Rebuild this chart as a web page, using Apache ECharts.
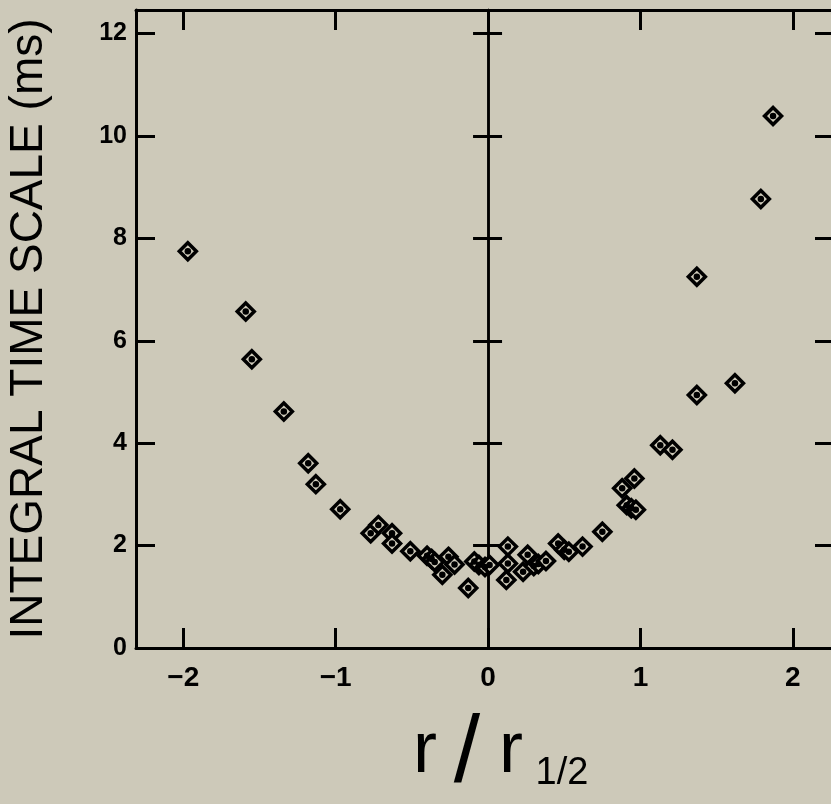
<!DOCTYPE html>
<html>
<head>
<meta charset="utf-8">
<script src="https://cdn.jsdelivr.net/npm/echarts@6/dist/echarts.min.js"></script>
<style>
html,body{margin:0;padding:0;background:#cdc9b9;}
#c{width:831px;height:804px;}
</style>
</head>
<body>
<div id="c"></div>
<script>
// r / r_1/2 values
const rValues = [-1.97,-1.59,-1.55,-1.34,-1.18,-1.13,-0.97,-0.77,-0.72,-0.63,-0.63,-0.51,-0.40,-0.37,-0.35,-0.30,-0.26,-0.22,-0.13,-0.09,-0.06,-0.02,0.01,
  0.12,0.13,0.13,0.23,0.26,0.30,0.33,0.38,0.46,0.50,0.53,0.62,0.75,0.88,0.96,0.91,0.94,0.97,1.13,1.21,1.37,1.37,1.62,1.79,1.87];
// integral time scale (ms)
const tValues = [7.75,6.57,5.64,4.62,3.61,3.20,2.71,2.24,2.40,2.24,2.04,1.89,1.80,1.74,1.68,1.43,1.78,1.63,1.17,1.69,1.62,1.58,1.62,
  1.33,1.65,1.98,1.49,1.82,1.60,1.64,1.70,2.04,1.92,1.88,1.98,2.27,3.12,3.31,2.79,2.73,2.70,3.96,3.87,4.94,7.25,5.17,8.77,10.39];
const xTicks = [-2,-1,0,1,2];
const yTicks = [0,2,4,6,8,10,12];

const points = rValues.map((r,i)=>[r,tValues[i]]);
const BG = '#cdc9b9';
const FONT = 'Liberation Sans';

const chart = echarts.init(document.getElementById('c'), null, {renderer:'canvas'});
const lineW = 3;
const baseX = {type:'value', min:-2.31, max:2.27, splitLine:{show:false}};
const baseY = {type:'value', min:0, max:12.46, splitLine:{show:false}};
chart.setOption({
  backgroundColor: BG,
  animation:false,
  grid:{left:136, top:10, right:-3, bottom:156, outerBoundsMode:'none', containLabel:false},
  xAxis:[
    Object.assign({}, baseX, {position:'bottom',
      axisLine:{onZero:false, lineStyle:{color:'#000', width:lineW}},
      axisTick:{inside:true, length:20, customValues:xTicks, lineStyle:{color:'#000', width:lineW}},
      axisLabel:{customValues:xTicks, color:'#000', fontSize:28, fontWeight:'bold', fontFamily:FONT, margin:16,
        formatter:v=> v<0 ? '\u2212'+Math.abs(v) : String(v)}}),
    Object.assign({}, baseX, {position:'top',
      axisLine:{onZero:false, lineStyle:{color:'#000', width:lineW}},
      axisTick:{inside:true, length:20, customValues:xTicks, lineStyle:{color:'#000', width:lineW}},
      axisLabel:{show:false}})
  ],
  yAxis:[
    Object.assign({}, baseY, {position:'left',
      name:'INTEGRAL TIME SCALE (ms)', nameLocation:'middle', nameRotate:90, nameGap:84,
      nameTextStyle:{color:'#000', fontSize:46, fontFamily:FONT},
      axisLine:{onZero:false, lineStyle:{color:'#000', width:lineW}},
      axisTick:{inside:true, length:19, customValues:yTicks, lineStyle:{color:'#000', width:lineW}},
      axisLabel:{customValues:yTicks, color:'#000', fontSize:25, fontWeight:'bold', fontFamily:FONT, margin:9}}),
    Object.assign({}, baseY, {position:'right',
      axisLine:{onZero:false, lineStyle:{color:'#000', width:lineW}},
      axisTick:{inside:true, length:19, customValues:yTicks, lineStyle:{color:'#000', width:lineW}},
      axisLabel:{show:false}}),
    Object.assign({}, baseY, {position:'left',
      axisLine:{onZero:true, lineStyle:{color:'#000', width:2.5}},
      axisTick:{inside:true, length:14, customValues:yTicks, lineStyle:{color:'#000', width:lineW}},
      axisLabel:{show:false}}),
    Object.assign({}, baseY, {position:'right',
      axisLine:{onZero:true, lineStyle:{color:'#000', width:2.5}},
      axisTick:{inside:true, length:15, customValues:yTicks, lineStyle:{color:'#000', width:lineW}},
      axisLabel:{show:false}})
  ],
  series:[
    {type:'scatter', data:points, symbol:'diamond', symbolSize:17, silent:true,
      itemStyle:{color:BG, borderColor:'#000', borderWidth:3.5, opacity:1}},
    {type:'scatter', data:points, symbol:'circle', symbolSize:6.5, silent:true,
      itemStyle:{color:'#000', opacity:1}}
  ],
  graphic:[
    {type:'text', x:425, y:752, style:{text:'r', fontSize:72, fontFamily:FONT, fill:'#000', textAlign:'center', textVerticalAlign:'middle'}},
    {type:'text', x:467, y:756, style:{text:'/', fontSize:95, fontFamily:FONT, fill:'#000', textAlign:'center', textVerticalAlign:'middle'}},
    {type:'text', x:511, y:752, style:{text:'r', fontSize:72, fontFamily:FONT, fill:'#000', textAlign:'center', textVerticalAlign:'middle'}},
    {type:'text', x:562, y:774, style:{text:'1/2', fontSize:38, fontFamily:FONT, fill:'#000', textAlign:'center', textVerticalAlign:'middle'}}
  ]
});
</script>
</body>
</html>
